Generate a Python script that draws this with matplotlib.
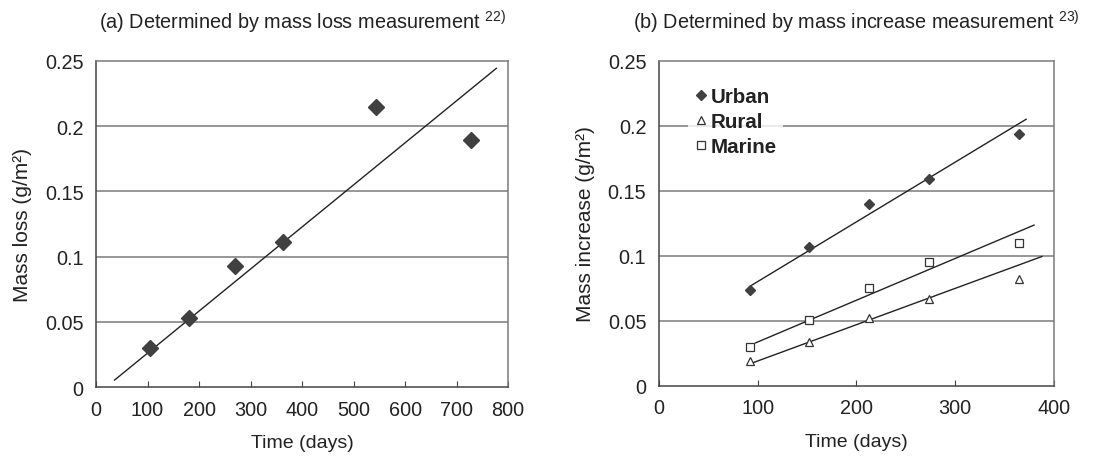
import numpy as np
import matplotlib.pyplot as plt

plt.rcParams['font.family'] = ['Liberation Sans', 'DejaVu Sans']
plt.rcParams['mathtext.fontset'] = 'custom'
plt.rcParams['mathtext.rm'] = 'Liberation Sans'

# (a) mass loss
days_a = [104, 180, 269, 363, 544, 728]
loss_a = [0.030, 0.053, 0.093, 0.111, 0.215, 0.189]
fit_a = (0.0003225, -0.0063)   # slope, intercept
fit_a_range = (36, 777)

# (b) mass increase
days_b = [92, 152, 213, 274, 365]
urban = [0.074, 0.107, 0.140, 0.159, 0.194]
rural = [0.019, 0.034, 0.052, 0.067, 0.082]
marine = [0.030, 0.051, 0.075, 0.095, 0.110]
fit_urban = (0.000459, 0.0343)
fit_rural = (0.000279, -0.0087)
fit_marine = (0.000321, 0.0017)
range_urban = (94, 372)
range_rural = (93, 388)
range_marine = (98, 380)

dark = '#404040'
grid_c = '#7a7a7a'


def style_axes(ax, xmax, xstep, ylabel):
    ax.set_xlim(0, xmax)
    ax.set_ylim(0, 0.25)
    ax.set_xticks(np.arange(0, xmax + 1, xstep))
    ax.set_yticks([0, 0.05, 0.1, 0.15, 0.2, 0.25])
    ax.set_yticklabels(['0', '0.05', '0.1', '0.15', '0.2', '0.25'])
    for y in [0.05, 0.1, 0.15, 0.2]:
        ax.axhline(y, color=grid_c, lw=1.1, zorder=0)
    ax.spines['left'].set_color('#444444')
    ax.spines['bottom'].set_color('#444444')
    ax.spines['top'].set_color(grid_c)
    ax.spines['right'].set_color(grid_c)
    for s in ax.spines.values():
        s.set_linewidth(1.1)
    ax.tick_params(axis='x', direction='in', length=4, color='#444444',
                   labelsize=14.3, pad=9, colors='#222222')
    ax.tick_params(axis='y', length=0, labelsize=14.3, pad=9, colors='#222222')
    ax.tick_params(axis='x', colors='#444444', labelcolor='#222222')
    ax.set_xlabel('Time (days)', fontsize=14, labelpad=11, color='#222222')
    ax.set_ylabel(ylabel, fontsize=15, labelpad=9, color='#222222')


def fit_line(ax, fit, xr):
    xs = np.array(xr, dtype=float)
    ax.plot(xs, fit[0] * xs + fit[1], color='#222222', lw=1.0, zorder=2)


fig = plt.figure(figsize=(11.11, 4.6), dpi=100)
ax1 = fig.add_axes([0.0864, 0.1565, 0.371, 0.709])
ax2 = fig.add_axes([0.593, 0.1587, 0.3555, 0.707])

# panel a
style_axes(ax1, 800, 100, 'Mass loss (g/m²)')
fit_line(ax1, fit_a, fit_a_range)
ax1.plot(days_a, loss_a, 'D', ms=7.8, color=dark, mec=dark, zorder=3)
ax1.set_title('(a) Determined by mass loss measurement $^{\\mathrm{22)}}$',
              fontsize=14.3, pad=23, color='#222222')

# panel b
style_axes(ax2, 400, 100, 'Mass increase (g/m²)')
fit_line(ax2, fit_urban, range_urban)
fit_line(ax2, fit_rural, range_rural)
fit_line(ax2, fit_marine, range_marine)
ax2.plot(days_b, urban, 'D', ms=4.8, color=dark, mec=dark, zorder=3, label='Urban')
ax2.plot(days_b, rural, '^', ms=6, mfc='white', mec='#333333', mew=0.9,
         zorder=3, label='Rural')
ax2.plot(days_b, marine, 's', ms=6.2, mfc='white', mec='#333333', mew=0.9,
         zorder=3, label='Marine')
ax2.set_title('(b) Determined by mass increase measurement $^{\\mathrm{23)}}$',
              fontsize=14.3, pad=23, color='#222222')
leg = ax2.legend(loc='upper left', bbox_to_anchor=(0.075, 0.937), frameon=True,
                 prop={'weight': 'bold', 'size': 14.8}, handlelength=0.6,
                 handletextpad=0.2, labelspacing=0.28, borderpad=0.3,
                 borderaxespad=0)
leg.get_frame().set_facecolor('white')
leg.get_frame().set_edgecolor('none')
leg.get_frame().set_boxstyle('square', pad=0.0)
for t in leg.get_texts():
    t.set_color('#222222')

fig.savefig('out.png', dpi=100)
